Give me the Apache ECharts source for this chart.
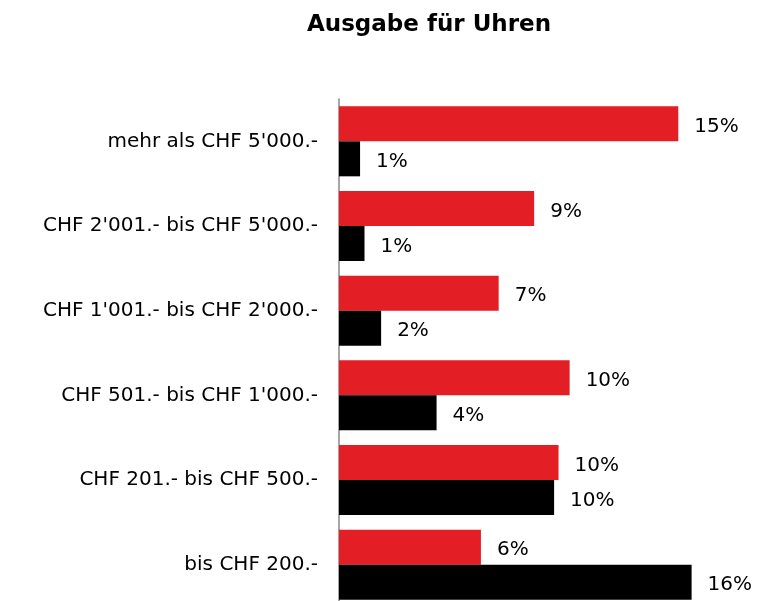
<!DOCTYPE html>
<html>
<head>
<meta charset="utf-8">
<script src="https://cdn.jsdelivr.net/npm/echarts@6/dist/echarts.min.js"></script>
<style>
  html, body { margin: 0; padding: 0; background: #fff; }
  #chart { width: 760px; height: 601px; }
</style>
</head>
<body>
<div id="chart"></div>
<script>
// categories, top to bottom
let categories = [
    "mehr als CHF 5'000.-",
    "CHF 2'001.- bis CHF 5'000.-",
    "CHF 1'001.- bis CHF 2'000.-",
    "CHF 501.- bis CHF 1'000.-",
    "CHF 201.- bis CHF 500.-",
    "bis CHF 200.-"
];

// percentages
let redValues = [15.3, 8.8, 7.2, 10.4, 9.9, 6.4];
let blackValues = [0.95, 1.15, 1.9, 4.4, 9.7, 15.9];

var dom = document.getElementById("chart");
var myChart = echarts.init(dom);

let labelStyle = {
    show: true,
    position: 'right',
    distance: 16,
    offset: [0, 3],
    fontFamily: 'DejaVu Sans',
    fontSize: 20,
    color: '#000',
    formatter: p => Math.round(p.value) + '%'
};

var option = {
    animation: false,
    title: {
        text: 'Ausgabe für Uhren',
        left: 424,
        textAlign: 'center',
        top: 9,
        textStyle: {
            fontFamily: 'DejaVu Sans',
            fontWeight: 'bold',
            fontSize: 23,
            color: '#000'
        }
    },
    grid: {
        left: 339,
        top: 99,
        width: 377,
        height: 508,
        outerBoundsMode: 'none'
    },
    xAxis: {
        type: 'value',
        min: 0,
        max: 17,
        show: false
    },
    yAxis: {
        type: 'category',
        inverse: true,
        data: categories,
        axisLine: { show: true, lineStyle: { color: '#888', width: 1.5 } },
        axisTick: { show: false },
        axisLabel: {
            margin: 21,
            padding: [5, 0, 0, 0],
            fontFamily: 'DejaVu Sans',
            fontSize: 20,
            color: '#000'
        }
    },
    series: [
        {
            type: 'bar',
            data: redValues,
            barWidth: 35,
            barGap: '0%',
            itemStyle: { color: '#e31e24' },
            label: labelStyle
        },
        {
            type: 'bar',
            data: blackValues,
            barWidth: 35,
            barGap: '0%',
            itemStyle: { color: '#000' },
            label: labelStyle
        }
    ]
};

myChart.setOption(option);
</script>
</body>
</html>
